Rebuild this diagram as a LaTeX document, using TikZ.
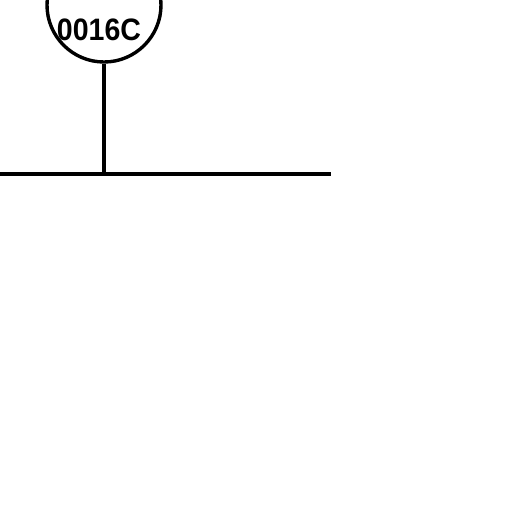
\documentclass[tikz,border=0pt]{standalone}
\usepackage{fontspec}
\setmainfont{Liberation Sans}
\usetikzlibrary{positioning}

\begin{document}
\begin{tikzpicture}[x=1pt,y=-1pt,line width=3.4pt,dev/.style={circle,draw,minimum size=114pt,inner sep=0pt}]
 \useasboundingbox (0,0) rectangle (512,512);
 % device circle and its tag
 \node[dev] (d) at (104,5) {};
 \node[inner sep=0pt,xscale=0.92] (tag) at (99,29.5) {\fontsize{31}{31}\selectfont\bfseries 0016C};

 % bus line with tap
 \coordinate (w) at (0,174);
 \coordinate (e) at (331,174);
 \coordinate (tap) at (d.south |- w);
 \draw (w) -- (e);
 \draw (d.south) -- (tap);
\end{tikzpicture}
\end{document}
